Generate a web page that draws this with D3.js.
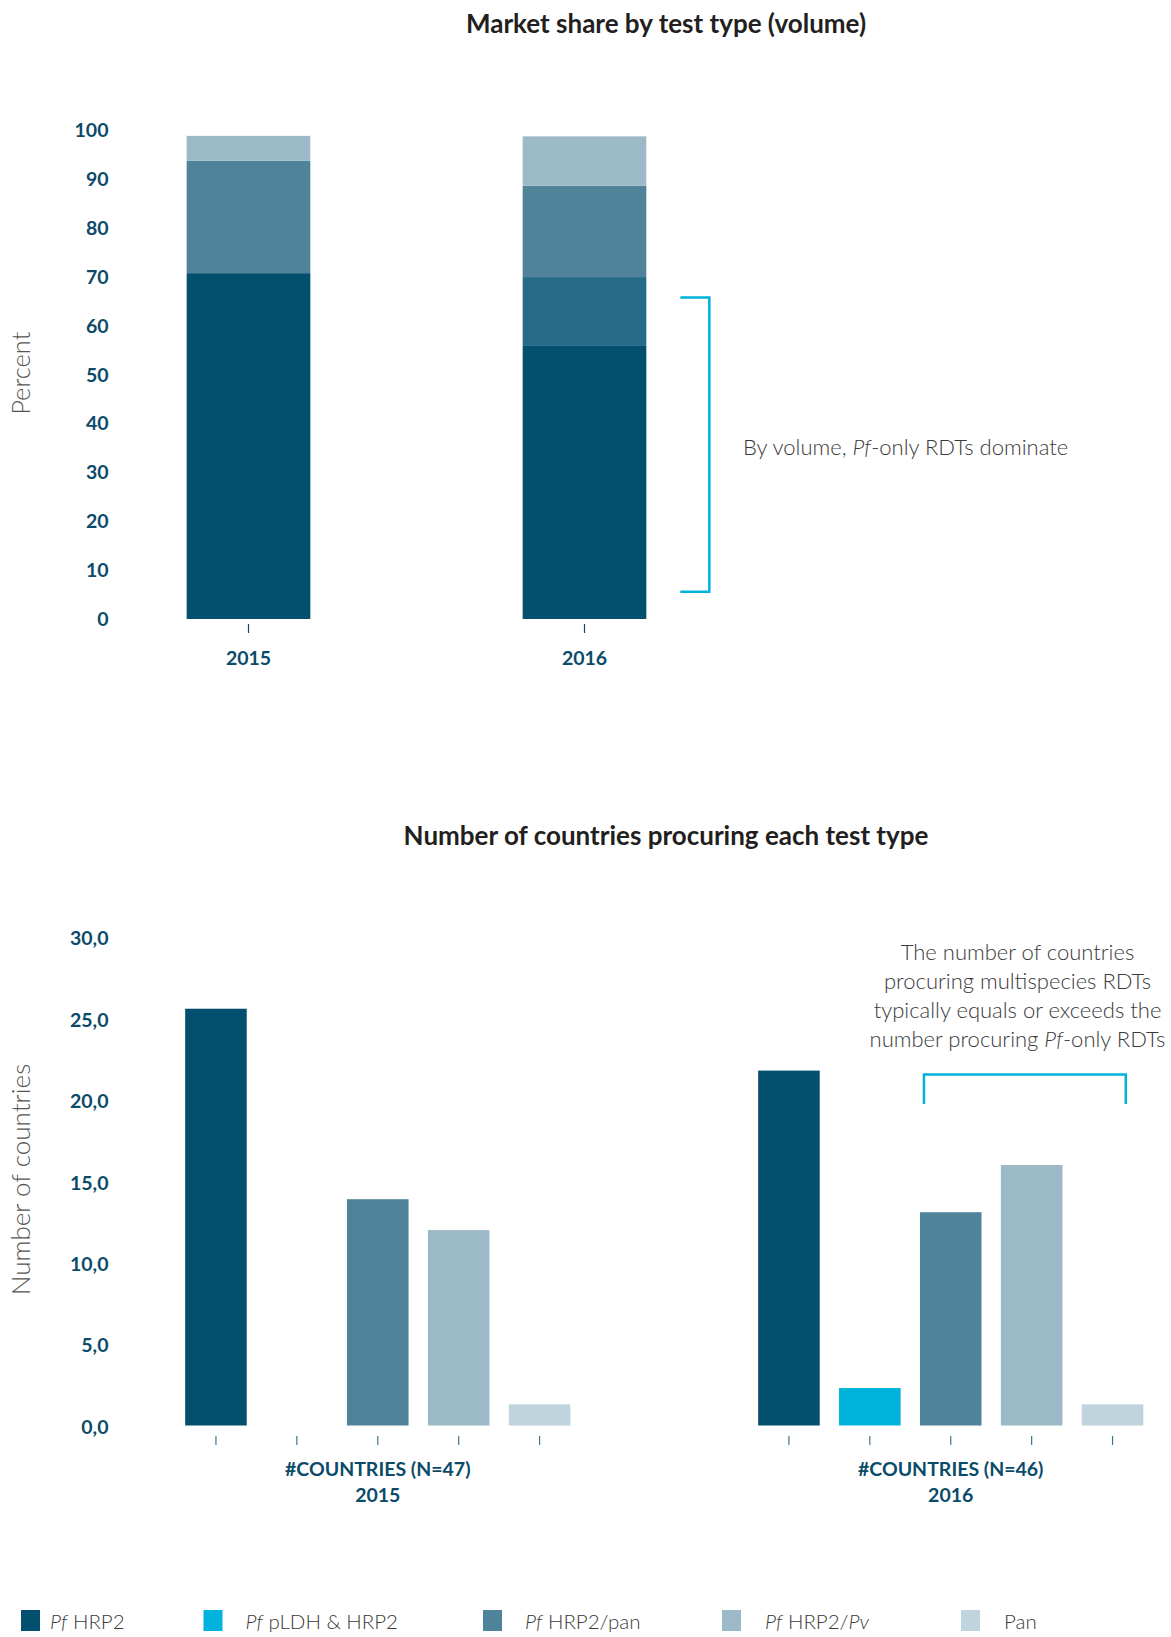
<!DOCTYPE html>
<html><head><meta charset="utf-8">
<script src="https://cdn.jsdelivr.net/npm/d3@7"></script>
<style>
body{margin:0;background:#fff;}
svg{display:block;font-family:Lato,"Source Sans Pro","Noto Sans",sans-serif;}
</style>
</head><body>
<svg id="c" width="1171" height="1637"></svg>
<script>
// ---------- DATA ----------
const years = ["2015", "2016"];
const testTypes = ["Pf HRP2", "Pf pLDH & HRP2", "Pf HRP2/pan", "Pf HRP2/Pv", "Pan"];
// Market share by test type (volume), percent, per year
const shareHRP2   = [70.8, 55.9];
const sharePLDH   = [0.0, 14.1];
const shareHRP2pan= [23.0, 18.7];
const shareHRP2Pv = [5.1, 10.1];
const sharePan    = [0.0, 0.0];
const shareTicks  = [0, 10, 20, 30, 40, 50, 60, 70, 80, 90, 100];
// Number of countries procuring each test type (order = testTypes)
const countries2015 = [25.6, 0.0, 13.9, 12.0, 1.3];
const countries2016 = [21.8, 2.3, 13.1, 16.0, 1.3];
const groupLabels = ["#COUNTRIES (N=47)", "#COUNTRIES (N=46)"];
const countryTicks = [0, 5, 10, 15, 20, 25, 30];

// ---------- STYLE ----------
const colors = {"Pf HRP2":"#034f6e","Pf pLDH & HRP2":"#00b3dc","Pf HRP2/pan":"#4e8399","Pf HRP2/Pv":"#9bb9c6","Pan":"#bfd4dc"};
const topColors = Object.assign({}, colors, {"Pf pLDH & HRP2":"#276a87"});
const axisColor = "#0b4b6a";
const accent = "#00b3dc";
const tickFont = 19.5;

const svg = d3.select("#c");

// ---------- TOP CHART ----------
svg.append("text").attr("x", 666).attr("y", 23.5).attr("dy","0.35em").attr("text-anchor","middle")
  .attr("font-size", 26).attr("font-weight", 700).attr("fill", "#231f20")
  .text("Market share by test type (volume)");

const xTop = d3.scaleBand().domain(years).range([80.5, 752.5]).paddingInner(0.632).paddingOuter(0.316);
const yTop = d3.scaleLinear().domain([0, 100]).range([619, 130.5]);

const shareRows = years.map((y, i) => ({year: y,
  "Pf HRP2": shareHRP2[i], "Pf pLDH & HRP2": sharePLDH[i], "Pf HRP2/pan": shareHRP2pan[i],
  "Pf HRP2/Pv": shareHRP2Pv[i], "Pan": sharePan[i]}));
const stacked = d3.stack().keys(testTypes)(shareRows);

svg.append("g").selectAll("g").data(stacked).join("g")
  .attr("fill", d => topColors[d.key])
  .selectAll("rect").data(d => d).join("rect")
  .attr("x", d => xTop(d.data.year)).attr("width", xTop.bandwidth())
  .attr("y", d => yTop(d[1])).attr("height", d => yTop(d[0]) - yTop(d[1]));

const yAxTop = svg.append("g").attr("transform", "translate(108.5,0)")
  .call(d3.axisLeft(yTop).tickValues(shareTicks).tickSize(0).tickPadding(0).tickFormat(d3.format("d")))
  .attr("font-family", null).attr("font-size", null);
yAxTop.select(".domain").remove();
yAxTop.selectAll("text").attr("font-size", tickFont).attr("font-weight", 700).attr("fill", axisColor);

const xAxTop = svg.append("g").attr("transform", "translate(0,624)")
  .call(d3.axisBottom(xTop).tickSize(9).tickPadding(0))
  .attr("font-family", null).attr("font-size", null);
xAxTop.select(".domain").remove();
xAxTop.selectAll("line").attr("stroke", axisColor).attr("stroke-width", 1.2);
xAxTop.selectAll("text").attr("font-size", tickFont).attr("font-weight", 700)
  .attr("fill", axisColor).attr("y", 34.5).attr("dy", "0.35em");

svg.append("text").attr("transform", "translate(21," + (yTop(50) - 1.5) + ") rotate(-90)")
  .attr("text-anchor","middle").attr("dy","0.35em").attr("font-size", 25.5).attr("font-weight", 300)
  .attr("fill", "#555").text("Percent");

// bracket top
const bx = xTop("2016") + xTop.bandwidth();
svg.append("path")
  .attr("d", `M${bx+34},${yTop(65.8)}H${bx+63}V${yTop(5.6)}H${bx+34}`)
  .attr("fill","none").attr("stroke", accent).attr("stroke-width", 2.5);
const t1 = svg.append("text").attr("x", 743).attr("y", 447).attr("dy","0.35em")
  .attr("font-size", 22).attr("font-weight", 300).attr("fill", "#3a3a3a");
t1.append("tspan").text("By volume, ");
t1.append("tspan").attr("font-style","italic").text("Pf");
t1.append("tspan").text("-only RDTs dominate");

// ---------- BOTTOM CHART ----------
svg.append("text").attr("x", 666).attr("y", 835.5).attr("dy","0.35em").attr("text-anchor","middle")
  .attr("font-size", 26).attr("font-weight", 700).attr("fill", "#231f20")
  .text("Number of countries procuring each test type");

const xGroup = d3.scaleBand().domain(years).range([175.5, 1153]).paddingInner(0.294).paddingOuter(0);
const xType = d3.scaleBand().domain(testTypes).range([0, xGroup.bandwidth()]).paddingInner(0.239).paddingOuter(0.1195);
const yBot = d3.scaleLinear().domain([0, 30]).range([1425.5, 937.1]);

const countryRows = [countries2015, countries2016];
const groups = svg.append("g").selectAll("g").data(years).join("g")
  .attr("transform", d => `translate(${xGroup(d)},0)`);
groups.selectAll("rect").data((d, i) => testTypes.map((t, j) => ({type: t, value: countryRows[i][j]})))
  .join("rect")
  .attr("x", d => xType(d.type)).attr("width", xType.bandwidth())
  .attr("y", d => yBot(d.value)).attr("height", d => yBot(0) - yBot(d.value))
  .attr("fill", d => colors[d.type]);

groups.each(function(d, i) {
  const g = d3.select(this).append("g").attr("transform", "translate(0,1436)")
    .call(d3.axisBottom(xType).tickSize(9).tickFormat(""));
  g.select(".domain").remove();
  g.selectAll("line").attr("stroke", "#3f7590").attr("stroke-width", 1.2);
  const lab = d3.select(this).append("text").attr("x", xGroup.bandwidth()/2).attr("text-anchor","middle")
    .attr("font-size", tickFont).attr("font-weight", 700).attr("fill", axisColor);
  lab.append("tspan").attr("x", xGroup.bandwidth()/2).attr("y", 1469.5).attr("dy","0.35em").text(groupLabels[i]);
  lab.append("tspan").attr("x", xGroup.bandwidth()/2).attr("y", 1495.5).attr("dy","0.35em").text(d);
});

const yAxBot = svg.append("g").attr("transform", "translate(108.5,1.5)")
  .call(d3.axisLeft(yBot).tickValues(countryTicks).tickSize(0).tickPadding(0)
    .tickFormat(d => d3.format(".1f")(d).replace(".", ",")))
  .attr("font-family", null).attr("font-size", null);
yAxBot.select(".domain").remove();
yAxBot.selectAll("text").attr("font-size", tickFont).attr("font-weight", 700).attr("fill", axisColor);

svg.append("text").attr("transform", "translate(21," + 1179.5 + ") rotate(-90)")
  .attr("text-anchor","middle").attr("dy","0.35em").attr("font-size", 26).attr("font-weight", 300)
  .attr("fill", "#555").text("Number of countries");

// bracket bottom
const g16 = xGroup("2016");
const bl = g16 + xType("Pf HRP2/pan") + 4;
const br = g16 + xType("Pan") + 44;
svg.append("path")
  .attr("d", `M${bl},1104V1074.5H${br}V1104`)
  .attr("fill","none").attr("stroke", accent).attr("stroke-width", 2.5);
const ann = svg.append("text").attr("text-anchor","middle").attr("font-size", 22).attr("font-weight", 300).attr("fill", "#3a3a3a");
const annX = 1017.5;
ann.append("tspan").attr("x", annX).attr("y", 952).attr("dy","0.35em").text("The number of countries");
ann.append("tspan").attr("x", annX).attr("y", 981.2).attr("dy","0.35em").text("procuring multispecies RDTs");
ann.append("tspan").attr("x", annX).attr("y", 1010.4).attr("dy","0.35em").text("typically equals or exceeds the");
ann.append("tspan").attr("x", annX).attr("y", 1039.6).attr("dy","0.35em").text("number procuring ");
ann.append("tspan").attr("font-style","italic").text("Pf");
ann.append("tspan").text("-only RDTs");

// ---------- LEGEND ----------
const legendSquareX = [21, 203.5, 483, 722, 961];
const legendTextDx = [29, 42, 42, 43, 43];
const legendParts = [
  [["Pf", true], [" HRP2", false]],
  [["Pf", true], [" pLDH & HRP2", false]],
  [["Pf", true], [" HRP2/pan", false]],
  [["Pf", true], [" HRP2/", false], ["Pv", true]],
  [["Pan", false]]
];
const leg = svg.append("g").selectAll("g").data(testTypes).join("g")
  .attr("transform", (d, i) => `translate(${legendSquareX[i]},0)`);
leg.append("rect").attr("x", 0).attr("y", 1610).attr("width", 19).attr("height", 21)
  .attr("fill", d => colors[d]);
leg.each(function(d, i) {
  const t = d3.select(this).append("text").attr("x", legendTextDx[i]).attr("y", 1622).attr("dy","0.35em")
    .attr("font-size", 20.5).attr("font-weight", 300).attr("fill", "#3a3a3a");
  legendParts[i].forEach(([s, it]) => t.append("tspan").attr("font-style", it ? "italic" : null).text(s));
});
</script>
</body></html>
